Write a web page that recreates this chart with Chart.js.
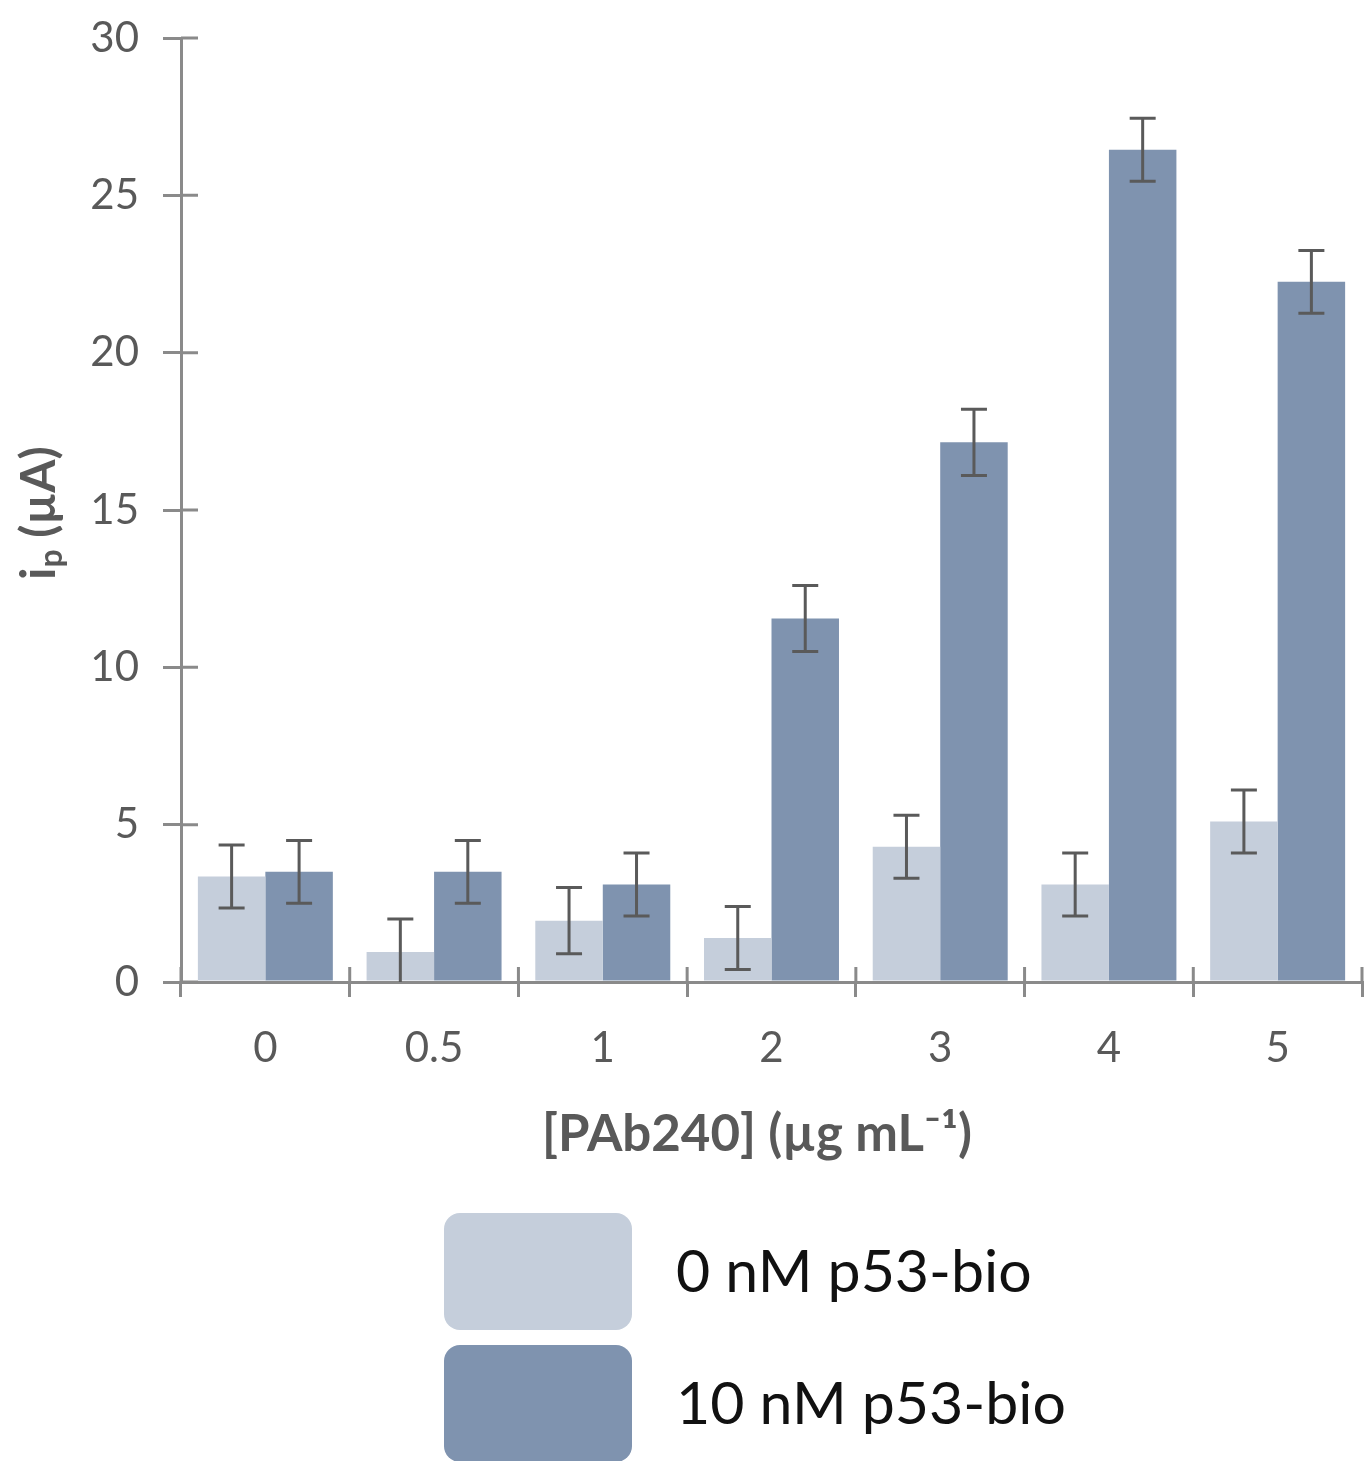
<!DOCTYPE html>
<html>
<head>
<meta charset="utf-8">
<script src="https://cdn.jsdelivr.net/npm/chart.js@4.4.0/dist/chart.umd.min.js"></script>
<style>
  html, body { margin: 0; padding: 0; background: #fff; }
  #wrap { width: 1367px; height: 1461px; }
</style>
</head>
<body>
<div id="wrap"><canvas id="chart" width="1367" height="1461"></canvas></div>
<script>
// data
const categories = ['0', '0.5', '1', '2', '3', '4', '5'];
const seriesNames = ['0 nM p53-bio', '10 nM p53-bio'];
const blankValues = [3.35, 0.95, 1.95, 1.4, 4.3, 3.1, 5.1];
const blankErrors = [1.0, 1.05, 1.05, 1.0, 1.0, 1.0, 1.0];
const p53Values = [3.5, 3.5, 3.1, 11.55, 17.15, 26.45, 22.25];
const p53Errors = [1.0, 1.0, 1.0, 1.05, 1.05, 1.0, 1.0];
const yTicks = [0, 5, 10, 15, 20, 25, 30];
const xTitle = '[PAb240] (µg mL⁻¹)';

const axisGrey = '#8a8a8a';
const textGrey = '#595959';
const FONT = 'Lato, "Open Sans", sans-serif';

// error bars, inner tick marks, axis titles and the stacked legend
const extras = {
  id: 'extras',
  afterDatasetsDraw(chart) {
    const ctx = chart.ctx;
    const y = chart.scales.y;
    const area = chart.chartArea;
    ctx.save();
    ctx.strokeStyle = '#5a5a5a';
    ctx.lineWidth = 3;
    chart.data.datasets.forEach((ds, di) => {
      const meta = chart.getDatasetMeta(di);
      meta.data.forEach((bar, i) => {
        const v = ds.data[i], e = ds.errors[i];
        const top = y.getPixelForValue(v + e);
        const bot = Math.min(y.getPixelForValue(v - e), area.bottom);
        const cap = 13;
        ctx.beginPath();
        ctx.moveTo(bar.x, top); ctx.lineTo(bar.x, bot);
        ctx.moveTo(bar.x - cap, top); ctx.lineTo(bar.x + cap, top);
        if (bot < area.bottom) {
          ctx.moveTo(bar.x - cap, bot); ctx.lineTo(bar.x + cap, bot);
        }
        ctx.stroke();
      });
    });
    ctx.restore();
  },
  afterDraw(chart) {
    const ctx = chart.ctx;
    const area = chart.chartArea;
    const y = chart.scales.y;
    ctx.save();
    ctx.strokeStyle = axisGrey;
    ctx.lineWidth = 3;
    ctx.beginPath();
    yTicks.forEach(v => {
      const py = y.getPixelForValue(v);
      ctx.moveTo(area.left, py); ctx.lineTo(area.left + 17, py);
    });
    const n = categories.length;
    for (let i = 0; i <= n; i++) {
      const px = area.left + i * (area.right - area.left) / n;
      ctx.moveTo(px, area.bottom); ctx.lineTo(px, area.bottom - 15);
    }
    ctx.stroke();

    // x axis title
    ctx.fillStyle = textGrey;
    ctx.textBaseline = 'middle';
    ctx.textAlign = 'center';
    ctx.font = 'bold 51px ' + FONT;
    ctx.fillText(xTitle, 757, 1135);

    // y axis title: i with subscript p
    ctx.translate(40, 513);
    ctx.rotate(-Math.PI / 2);
    const big = 'bold 48px ' + FONT, small = 'bold 32px ' + FONT;
    ctx.font = big; const w1 = ctx.measureText('i').width;
    ctx.font = small; const w2 = ctx.measureText('p').width;
    ctx.font = big; const w3 = ctx.measureText(' (µA)').width;
    let x0 = -(w1 + w2 + w3) / 2;
    ctx.textAlign = 'left';
    ctx.font = big; ctx.fillText('i', x0, 0);
    ctx.font = small; ctx.fillText('p', x0 + w1, 12);
    ctx.font = big; ctx.fillText(' (µA)', x0 + w1 + w2, 0);
    ctx.restore();

    // legend, stacked below the chart
    ctx.save();
    chart.data.datasets.forEach((ds, i) => {
      const bx = 444, by = 1213 + i * 132;
      ctx.fillStyle = ds.backgroundColor;
      ctx.beginPath();
      ctx.roundRect(bx, by, 188, 117, 16);
      ctx.fill();
      ctx.fillStyle = '#111';
      ctx.font = '59px ' + FONT;
      ctx.textBaseline = 'middle';
      ctx.textAlign = 'left';
      ctx.fillText(ds.label, 676, by + 60);
    });
    ctx.restore();
  }
};

const ctx = document.getElementById('chart').getContext('2d');
new Chart(ctx, {
  type: 'bar',
  data: {
    labels: categories,
    datasets: [{
      label: seriesNames[0],
      data: blankValues,
      errors: blankErrors,
      backgroundColor: '#c5cedb',
      borderWidth: 0
    }, {
      label: seriesNames[1],
      data: p53Values,
      errors: p53Errors,
      backgroundColor: '#7f93af',
      borderWidth: 0
    }]
  },
  options: {
    responsive: false,
    animation: false,
    devicePixelRatio: 1,
    layout: { padding: { top: 38, right: 5, bottom: 0, left: 0 } },
    datasets: { bar: { categoryPercentage: 0.8, barPercentage: 1.0 } },
    plugins: { legend: { display: false }, tooltip: { enabled: false } },
    scales: {
      x: {
        grid: { drawOnChartArea: false, tickLength: 15, color: axisGrey, lineWidth: 3 },
        border: { color: axisGrey, width: 3 },
        ticks: { color: textGrey, font: { family: FONT, size: 42 }, padding: 26 },
        afterFit(scale) { scale.height = 1461 - 982; }
      },
      y: {
        min: 0,
        max: 30,
        grid: { drawOnChartArea: false, tickLength: 18, color: axisGrey, lineWidth: 3 },
        border: { color: axisGrey, width: 3 },
        ticks: { color: textGrey, font: { family: FONT, size: 42 }, padding: 24 },
        afterBuildTicks(scale) { scale.ticks = yTicks.map(v => ({ value: v })); },
        afterFit(scale) {
          scale.width = 181;
          scale.paddingTop = 0;
          scale.paddingBottom = 0;
        }
      }
    }
  },
  plugins: [extras]
});
</script>
</body>
</html>
